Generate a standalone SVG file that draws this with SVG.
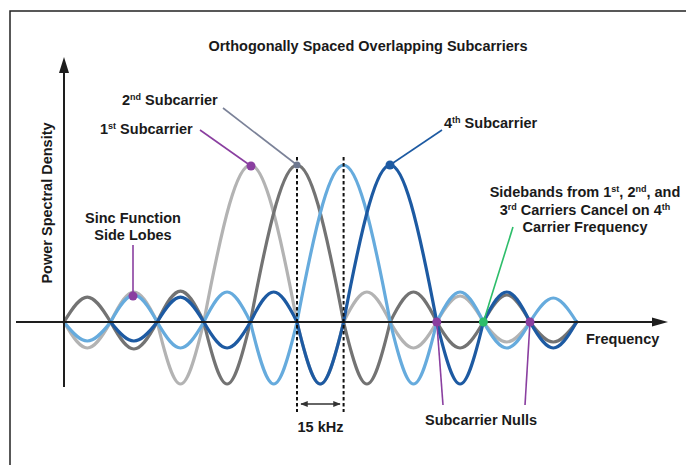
<svg xmlns="http://www.w3.org/2000/svg" width="686" height="465" viewBox="0 0 686 465">
<defs>
<style>
.t{font-family:"Liberation Sans",Arial,sans-serif;font-weight:bold;font-size:14.5px;fill:#1a1a1a}
.c{fill:none;stroke-width:3.2;stroke-linejoin:round;stroke-linecap:round}
.ax{stroke:#1e1e1e;stroke-width:2;fill:none}
.dash{stroke:#111;stroke-width:2;stroke-dasharray:3.5 2.5;fill:none}
.ld{fill:none;stroke-width:1.6}
</style>
<marker id="ah" viewBox="0 0 10 8" refX="9" refY="4" markerWidth="8" markerHeight="6" markerUnits="userSpaceOnUse" orient="auto-start-reverse">
<path d="M0,0 L10,4 L0,8 z" fill="#333"/>
</marker>
</defs>
<rect width="686" height="465" fill="#fff"/>
<g id="frame" stroke="#222" stroke-width="1.5" fill="none">
<path d="M10,465 V11 H686"/>
</g>
<text id="title" class="t" x="368" y="51" text-anchor="middle" font-size="14.8">Orthogonally Spaced Overlapping Subcarriers</text>

<g id="curves">
<path id="sub1" class="c" stroke="#b3b3b3" d="M64,322 c19.78,34.66 26.82,34.66 46.6,0 c19.78,-40 26.82,-40 46.6,0 c19.78,82.65 26.82,82.65 46.6,0 c39.55,-209.3 53.65,-209.3 93.2,0 c19.78,82.65 26.82,82.65 46.6,0 c19.78,-40 26.82,-40 46.6,0 c19.78,34.66 26.82,34.66 46.6,0 c19.78,-34.66 26.82,-34.66 46.6,0 c19.78,26.66 26.82,26.66 46.6,0"/>
<path id="sub2" class="c" stroke="#737373" d="M64,322 c19.78,-33.3 26.82,-33.3 46.6,0 c19.78,36 26.82,36 46.6,0 c19.78,-41.3 26.82,-41.3 46.6,0 c19.78,82.65 26.82,82.65 46.6,0 c39.55,-209.3 53.65,-209.3 93.2,0 c19.78,82.65 26.82,82.65 46.6,0 c19.78,-40 26.82,-40 46.6,0 c19.78,34.66 26.82,34.66 46.6,0 c19.78,-36 26.82,-36 46.6,0 c19.78,26.66 26.82,26.66 46.6,0"/>
<path id="sub3" class="c" stroke="#66abdd" d="M64,322 c19.78,25.33 26.82,25.33 46.6,0 c19.78,-36 26.82,-36 46.6,0 c19.78,34.66 26.82,34.66 46.6,0 c19.78,-40 26.82,-40 46.6,0 c19.78,82.65 26.82,82.65 46.6,0 c39.55,-209.3 53.65,-209.3 93.2,0 c19.78,82.65 26.82,82.65 46.6,0 c19.78,-40 26.82,-40 46.6,0 c19.78,34.66 26.82,34.66 46.6,0 c19.78,-32 26.82,-32 46.6,0"/>
<path id="sub4" class="c" stroke="#1d5aa2" d="M110.6,322 c19.78,25.33 26.82,25.33 46.6,0 c19.78,-33.3 26.82,-33.3 46.6,0 c19.78,34.66 26.82,34.66 46.6,0 c19.78,-40 26.82,-40 46.6,0 c19.78,82.65 26.82,82.65 46.6,0 c39.55,-209.3 53.65,-209.3 93.2,0 c19.78,82.65 26.82,82.65 46.6,0 c19.78,-40 26.82,-40 46.6,0 c19.78,34.66 26.82,34.66 46.6,0"/>
</g>

<g id="axes">
<path class="ax" d="M64,387 V70"/>
<path d="M64,57 L69,73 L59,73 z" fill="#1e1e1e"/>
<path class="ax" d="M16,322 H654"/>
<path d="M668,322 L652,317.5 L652,326.5 z" fill="#1e1e1e"/>
<text class="t" x="586" y="344" font-size="15">Frequency</text>
<text class="t" transform="translate(52,203) rotate(-90)" text-anchor="middle" font-size="15">Power Spectral Density</text>
</g>

<g id="spacing">
<path class="dash" d="M297,157 V412"/>
<path class="dash" d="M343.6,157 V412"/>
<path d="M301,404 H340" stroke="#333" stroke-width="1.5" marker-start="url(#ah)" marker-end="url(#ah)"/>
<text class="t" x="320.5" y="432" text-anchor="middle">15 kHz</text>
</g>

<g id="connectors">
<path class="ld" stroke="#8a3fa0" d="M200,130 L251,166"/>
<path class="ld" stroke="#7b8298" d="M223,108 L297,165"/>
<path class="ld" stroke="#1d5aa2" d="M442,130 L390,165"/>
<path class="ld" stroke="#8a3fa0" d="M133,245 V296"/>
<path class="ld" stroke="#2dbd6a" d="M513,227 L483.4,322"/>
<path class="ld" stroke="#8a3fa0" d="M443,405 L436.8,322"/>
<path class="ld" stroke="#8a3fa0" d="M525,405 L530,322"/>
</g>

<g id="dots">
<circle cx="251" cy="166" r="4.5" fill="#8a3fa0"/>
<circle cx="297" cy="165" r="3.5" fill="#6e7890"/>
<circle cx="390" cy="165" r="4.5" fill="#1d5aa2"/>
<circle cx="133" cy="296" r="4.5" fill="#8a3fa0"/>
<circle cx="436.8" cy="322" r="4.5" fill="#8a3fa0"/>
<circle cx="530" cy="322" r="4.5" fill="#8a3fa0"/>
<circle cx="483.4" cy="322" r="4.5" fill="#2dbd6a"/>
</g>

<g id="label-sub1"><text class="t" x="100" y="134">1<tspan font-size="9" dy="-5">st</tspan><tspan dy="5"> Subcarrier</tspan></text></g>
<g id="label-sub2"><text class="t" x="122" y="105">2<tspan font-size="9" dy="-5">nd</tspan><tspan dy="5"> Subcarrier</tspan></text></g>
<g id="label-sub4"><text class="t" x="444" y="128">4<tspan font-size="9" dy="-5">th</tspan><tspan dy="5"> Subcarrier</tspan></text></g>
<g id="label-sinc">
<text class="t" x="133" y="223" text-anchor="middle">Sinc Function</text>
<text class="t" x="133" y="240" text-anchor="middle">Side Lobes</text>
</g>
<g id="label-sidebands">
<text class="t" x="585" y="197" text-anchor="middle">Sidebands from 1<tspan font-size="9" dy="-5">st</tspan><tspan dy="5">, 2</tspan><tspan font-size="9" dy="-5">nd</tspan><tspan dy="5">, and</tspan></text>
<text class="t" x="585" y="214.5" text-anchor="middle">3<tspan font-size="9" dy="-5">rd</tspan><tspan dy="5"> Carriers Cancel on 4</tspan><tspan font-size="9" dy="-5">th</tspan></text>
<text class="t" x="585" y="232" text-anchor="middle">Carrier Frequency</text>
</g>
<g id="label-nulls"><text class="t" x="481" y="425" text-anchor="middle">Subcarrier Nulls</text></g>
</svg>
